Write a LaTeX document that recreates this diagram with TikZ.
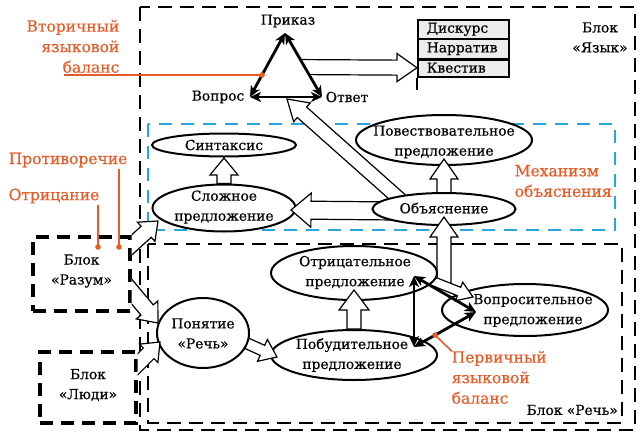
\documentclass[tikz,border=0pt]{standalone}
\usepackage{fontspec}
\setmainfont{DejaVu Serif}[RawFeature={embolden=0.4}]
\usetikzlibrary{calc,arrows.meta,shapes.geometric}
\definecolor{anno}{RGB}{230,92,40}
\definecolor{mech}{RGB}{40,165,220}
\definecolor{rowgray}{RGB}{236,236,236}
\newcommand{\mfs}{\fontsize{13.8}{20}\selectfont}
\newcommand{\afs}{\fontsize{15.5}{20.5}\selectfont}
% hollow block arrow: [opts]{from}{tip}{shaft half}{head half}{head length}
\newcommand{\harrow}[6][]{%
  \coordinate (hah) at ($(#3)!#6!(#2)$);
  \filldraw[hollow,#1] ($(#2)!#4!90:(#3)$) -- ($(hah)!#4!90:(#3)$) -- ($(hah)!#5!90:(#3)$) -- (#3)
     -- ($(hah)!#5!-90:(#3)$) -- ($(hah)!#4!-90:(#3)$) -- ($(#2)!#4!-90:(#3)$) -- cycle;
}
\tikzset{
  ell/.style={ellipse, draw=black, line width=2pt, fill=white, inner sep=0pt},
  txt/.style={font=\mfs, align=center, inner sep=0pt, text=black},
  anntxt/.style={font=\afs, text=anno, inner sep=1.5pt},
  annoline/.style={draw=anno, line width=1.6pt},
  hollow/.style={draw=black, fill=white, line width=1.2pt, line join=miter},
  bal/.style={line width=2.8pt, arrows={Stealth[length=11pt,width=10pt,inset=3pt]-Stealth[length=11pt,width=10pt,inset=3pt]}},
  yframe/.style={draw=black, line width=1.5pt, dash pattern=on 14pt off 8pt},
  rframe/.style={draw=black, line width=1.5pt, dash pattern=on 14pt off 8pt},
  mframe/.style={draw=mech, line width=1.6pt, dash pattern=on 13pt off 9pt},
  blkbox/.style={draw=black, line width=3.2pt, dash pattern=on 13pt off 8pt, font=\mfs, align=center, inner sep=0pt},
  rowbox/.style={draw=black, line width=1.5pt, fill=rowgray, anchor=north west, text width=73pt, inner xsep=9pt, inner ysep=0pt, align=left, font=\mfs},
}
\begin{document}
\begin{tikzpicture}[x=1pt,y=-1pt]
\useasboundingbox (0,0) rectangle (642,439);
\fill[white] (0,0) rectangle (642,439);

% frames
\draw[yframe] (140,7) rectangle (635,430);
\draw[mframe] (148,124) rectangle (615,230);
\draw[rframe] (148,244) rectangle (622,423);

% list of discourse types
\node[rowbox, minimum height=19pt] (disk) at (417,19) {Дискурс};
\node[rowbox, minimum height=20pt] (narr) at (417,38) {Нарратив};
\node[rowbox, minimum height=18pt] (kvest) at (417,58) {Квестив};
\draw[line width=2.4pt] (narr.south west) -- (narr.south east);
\coordinate (listend) at (417,90);
\draw[line width=1.5pt] (kvest.south west) -- (listend);

% ellipses (first group)
\node[ell, minimum width=144pt, minimum height=23pt] (sint) at (224,145) {};
\node[ell, minimum width=143pt, minimum height=47pt] (slozh) at (224,208) {};
\node[ell, minimum width=176pt, minimum height=50pt] (pov) at (444,140) {};
\node[ell, minimum width=166pt, minimum height=52pt] (vopr) at (525,310) {};
\node[ell, minimum width=166pt, minimum height=50pt] (pob) at (354,355) {};

% centres of ellipses drawn later
\coordinate (objc) at (444,209);
\coordinate (otrc) at (354,273);
\coordinate (ponc) at (203,333);

% triangle vertices
\coordinate (tP) at (285,33);
\coordinate (tV) at (250,97);
\coordinate (tO) at (322,97);

% arrows leaving "Объяснение" (backs hidden under it)
\coordinate (a2s) at ($(objc)+(-40,-6)$);
\coordinate (a2t) at (287,99);
\harrow{a2s}{a2t}{7pt}{12.5pt}{20pt}
\coordinate (a3s) at ($(objc)+(-49,2)$);
\coordinate (a3t) at (291,210);
\harrow{a3s}{a3t}{9pt}{17pt}{20pt}
\coordinate (a4s) at ($(objc)+(0,-4)$);
\coordinate (a4t) at (444,159);
\harrow{a4s}{a4t}{7pt}{14pt}{20pt}

\node[ell, minimum width=143pt, minimum height=32pt] (obj) at (objc) {};

% arrow up into "Объяснение"
\coordinate (a5s) at (444,285);
\coordinate (a5t) at (444,217);
\harrow{a5s}{a5t}{7pt}{14pt}{20pt}

% arrow "Отрицательное" -> "Вопросительное"
\coordinate (a6s) at ($(otrc)+(66,3)$);
\coordinate (a6t) at (473,297);
\harrow{a6s}{a6t}{4.5pt}{10pt}{15pt}

\node[ell, minimum width=166pt, minimum height=54pt] (otr) at (otrc) {};

% "Побудительное" -> "Отрицательное", "Сложное" -> "Синтаксис"
\coordinate (a7t) at (354,290);
\harrow{pob.north}{a7t}{7pt}{15pt}{20pt}
\coordinate (a8t) at (224,158);
\harrow{slozh.north}{a8t}{7pt}{14pt}{17pt}

% "Понятие" -> "Побудительное"
\coordinate (a9s) at ($(ponc)+(30,4)$);
\coordinate (a9t) at (277,357);
\harrow{a9s}{a9t}{5.5pt}{12pt}{16pt}

\node[ell, minimum width=92pt, minimum height=70pt] (pon) at (ponc) {};

% blocks "Разум", "Люди"
\node[blkbox, minimum width=97pt, minimum height=74pt] (razum) at (81.5,274) {};
\node[blkbox, minimum width=96pt, minimum height=71pt] (ludi) at (88,387.5) {};

\begin{scope}
  \clip (razum.east) ++(0,-300) rectangle (642,439);
  \coordinate (a10s) at (124,252);
  \coordinate (a10t) at (158,221);
  \harrow{a10s}{a10t}{7.5pt}{13pt}{16pt}
  \coordinate (a11s) at (122,280);
  \coordinate (a11t) at (158,323);
  \harrow{a11s}{a11t}{8pt}{14pt}{17pt}
\end{scope}
\begin{scope}
  \clip (ludi.east) ++(0,-400) rectangle (642,439);
  \coordinate (a12s) at (128,374);
  \coordinate (a12t) at (160,342);
  \harrow{a12s}{a12t}{7.5pt}{13pt}{16pt}
\end{scope}

% triangle -> list arrow
\coordinate (a1s) at (292,67);
\harrow{a1s}{kvest.west}{7.5pt}{14pt}{20pt}
\fill[white] (tP) -- (tV) -- (tO) -- cycle;

% texts
\node[txt] (sintT) at (224,145) {Синтаксис};
\node[txt] (slozhT) at (224,207) {Сложное\\предложение};
\node[txt] (povT) at (444,142) {Повествовательное\\предложение};
\node[txt] (objT) at (444,208) {Объяснение};
\node[txt] (otrT) at (355,272.5) {Отрицательное\\предложение};
\node[txt] (voprT) at (533,310.5) {Вопросительное\\предложение};
\node[txt] (pobT) at (352,355) {Побудительное\\предложение};
\node[txt] (ponT) at (203,333.5) {Понятие\\«Речь»};
\node[txt] (razT) at (81.5,271) {Блок\\«Разум»};
\node[txt] (ludT) at (88,385) {Блок\\«Люди»};
\node[txt] (yazT) at (600,37.5) {Блок\\«Язык»};
\node[txt, anchor=east] (rechT) at (618,410) {Блок «Речь»};
\node[txt] (prikT) at (288,21) {Приказ};
\node[txt] (voprosT) at (218,97) {Вопрос};
\node[txt] (otvT) at (347,97) {Ответ};

% secondary balance triangle
\draw[bal] (tP) -- (tV);
\draw[bal] (tP) -- (tO);
\draw[bal] (tV) -- (tO);

% primary balance triangle
\coordinate (bA) at (414,276);
\coordinate (bB) at (414,347);
\coordinate (bC) at (476,312);
\draw[bal] (bA) -- (bB);
\draw[bal] (bA) -- (bC);
\draw[bal] (bB) -- (bC);

% annotations
\node[anntxt, align=right, anchor=east] (vtorT) at (121,46.5) {Вторичный\\языковой\\баланс};
\coordinate (vtorEnd) at (64,75);
\coordinate (vtorDot) at ($(tP)!0.656!(tV)$);
\draw[annoline] (vtorEnd) -- (vtorDot);
\fill[anno] (vtorDot) circle (2.8);

\node[anntxt, anchor=west] (protT) at (7,160) {Противоречие};
\node[anntxt, anchor=west] (otrzT) at (7,196) {Отрицание};
\coordinate (dotOtr) at (98,247);
\coordinate (dotProt) at (119,247);
\draw[annoline] (dotOtr |- otrzT.south) -- (dotOtr);
\draw[annoline] (dotProt |- protT.south) -- (dotProt);
\fill[anno] (dotOtr) circle (2.8);
\fill[anno] (dotProt) circle (2.8);

\node[anntxt, align=left, anchor=west] (mechT) at (513,181) {Механизм\\объяснения};

\node[anntxt, align=left, anchor=west] (pervT) at (450,377.5) {Первичный\\языковой\\баланс};
\coordinate (pervDot) at ($(bB)!0.34!(bC)$);
\draw[annoline] (pervDot) -- ($(pervT.north west)+(2,2)$);
\fill[anno] (pervDot) circle (2.8);
\end{tikzpicture}
\end{document}
